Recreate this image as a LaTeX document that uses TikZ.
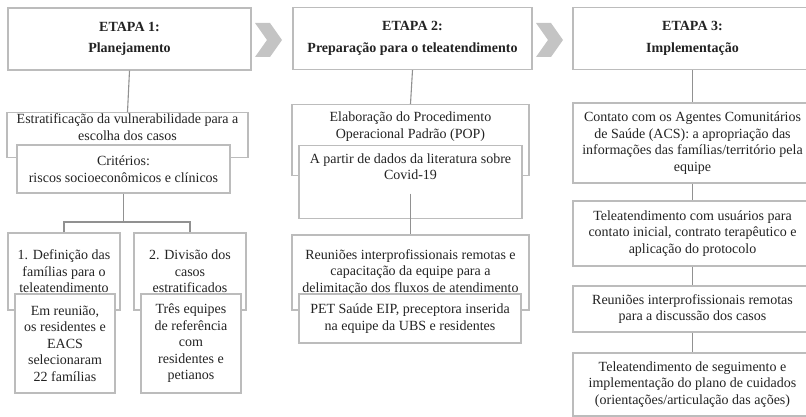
\documentclass[tikz,border=0pt]{standalone}
\usepackage{fontspec}
\setmainfont{Liberation Serif}
\usetikzlibrary{positioning}

\definecolor{boxgray}{RGB}{188,188,188}
\definecolor{linegray}{RGB}{145,145,145}
\definecolor{arrowgray}{RGB}{196,196,196}
\definecolor{inkgray}{RGB}{35,35,35}

\tikzset{
  stage/.style={draw=boxgray, fill=white, line width=1.2pt, minimum width=#1,
    minimum height=62pt, align=center, text=inkgray,
    font=\fontsize{14}{21.5}\selectfont\bfseries},
  card/.style={draw=boxgray, fill=white, line width=1.2pt, align=center,
    inner sep=2pt, text=inkgray, font=\fontsize{14}{16.5}\selectfont},
  link/.style={draw=linegray, line width=1.1pt},
}

\begin{document}
\begin{tikzpicture}[x=1pt, y=-1pt]
  \useasboundingbox (0,0) rectangle (806,417);

  % Stage headings
  \node[stage=243pt] (head1) at (129.5,39) {ETAPA 1:\\Planejamento};
  \node[stage=239pt] (head2) at (412.5,38.5) {ETAPA 2:\\Preparação para o teleatendimento};
  \node[stage=239pt] (head3) at (692.5,38.5) {ETAPA 3:\\Implementação};

  % Chevrons between the stages
  \foreach \cx in {255,536}
    \fill[arrowgray] (\cx,23) -- ++(15,0) -- ++(12,17) -- ++(-12,17)
      -- ++(-15,0) -- ++(12,-17) -- cycle;

  % Etapa 1: outer box, text at the top
  \node[card, minimum width=241pt, anchor=north, text height=25.5pt, text depth=15.5pt]
    (estrat) at (127.5,112) {Estratificação da vulnerabilidade para a\\escolha dos casos};
  \node[card, minimum width=213pt, minimum height=48pt] (crit) at (123.5,169)
    {Critérios:\\riscos socioeconômicos e clínicos};

  % Etapa 1: the two branches
  \node[card, minimum width=112pt, minimum height=77pt] (def) at (64,271.5)
    {1. Definição das\\famílias para o\\teleatendimento};
  \node[card, minimum width=100pt, minimum height=99pt] (reuniao) at (65,343.5)
    {Em reunião,\\os residentes e\\EACS\\selecionaram\\22 famílias};
  \node[card, minimum width=112pt, minimum height=77pt] (div) at (190,271.5)
    {2. Divisão dos\\casos\\estratificados};
  \node[card, minimum width=100pt, minimum height=99pt] (equipes) at (191,343.5)
    {Três equipes\\de referência\\com\\residentes e\\petianos};

  % Etapa 2
  \node[card, minimum width=237pt, anchor=north, text height=31.5pt, text depth=35.5pt]
    (pop) at (410.5,104) {Elaboração do Procedimento\\Operacional Padrão (POP)};
  \node[card, minimum width=223pt, anchor=north, text height=32.3pt, text depth=36.2pt]
    (partir) at (410.5,145) {A partir de dados da literatura sobre\\Covid-19};
  \node[card, minimum width=237pt, minimum height=75pt] (reun2) at (410.5,272.5)
    {Reuniões interprofissionais remotas e\\capacitação da equipe para a\\delimitação dos fluxos de atendimento};
  \node[card, minimum width=222pt, minimum height=49pt] (pet) at (410,318.5)
    {PET Saúde EIP, preceptora inserida\\na equipe da UBS e residentes};

  % Etapa 3
  \node[card, minimum width=239pt, minimum height=80pt] (contato) at (692.5,143)
    {Contato com os Agentes Comunitários\\de Saúde (ACS): a apropriação das\\informações das famílias/território pela\\equipe};
  \node[card, minimum width=239pt, minimum height=65pt] (tele1) at (692.5,233.5)
    {Teleatendimento com usuários para\\contato inicial, contrato terapêutico e\\aplicação do protocolo};
  \node[card, minimum width=239pt, minimum height=46pt] (reun3) at (692.5,309)
    {Reuniões interprofissionais remotas\\para a discussão dos casos};
  \node[card, minimum width=239pt, minimum height=63pt] (tele2) at (692.5,384.5)
    {Teleatendimento de seguimento e\\implementação do plano de cuidados\\(orientações/articulação das ações)};

  % Connectors
  \coordinate (fork1) at (124,222);
  \draw[link] (head1.south) -- (estrat.north);
  \draw[link] (crit.south) -- (crit.south |- fork1);
  \draw[link] (def.north) |- (fork1) -| (div.north);
  \draw[link] (head2.south) -- (pop.north);
  \draw[link, shorten <=-25pt] (partir.south) -- (reun2.north);
  \draw[link] (head3.south) -- (contato.north);
  \draw[link] (contato.south) -- (tele1.north);
  \draw[link] (tele1.south) -- (reun3.north);
  \draw[link] (reun3.south) -- (tele2.north);
\end{tikzpicture}
\end{document}
